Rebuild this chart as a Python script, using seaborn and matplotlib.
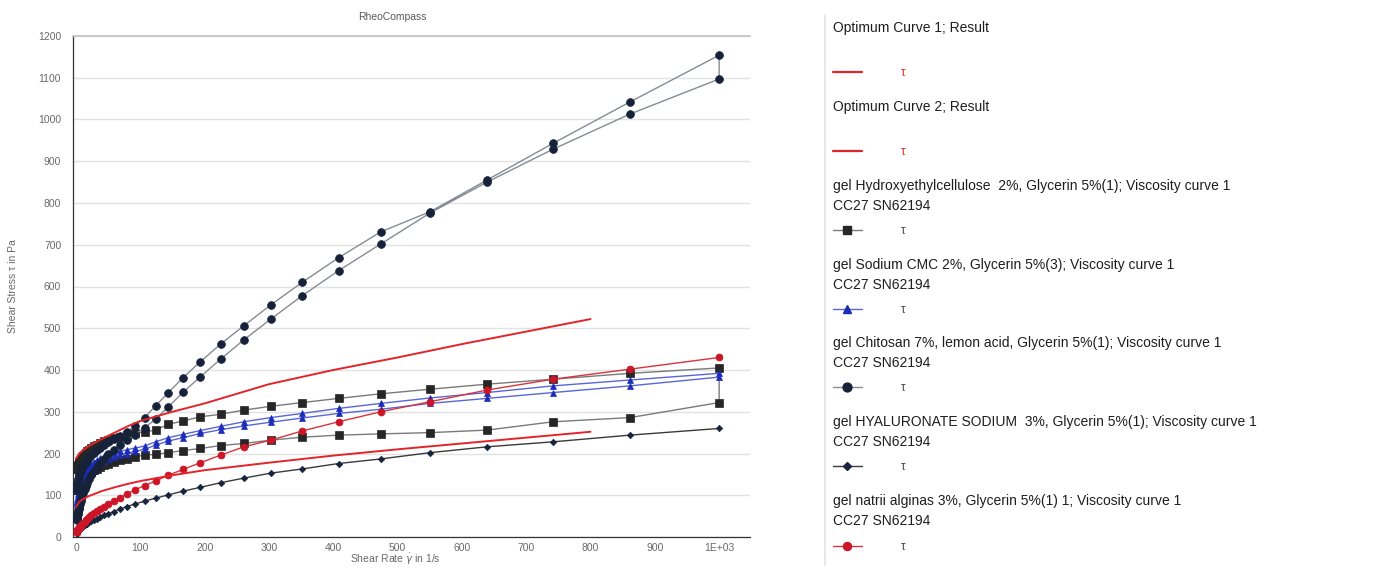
import matplotlib
matplotlib.use("Agg")
import matplotlib.pyplot as plt
from matplotlib.ticker import MultipleLocator, FuncFormatter
from matplotlib.lines import Line2D
import seaborn as sns

# Shear rate steps of the flow sweeps (1/s), ascending
SHEAR_RATE = [1.04, 1.20, 1.40, 1.62, 1.89, 2.19, 2.54, 2.95, 3.43, 3.98,
              4.62, 5.37, 6.23, 7.24, 8.40, 9.76, 11.3, 13.2, 15.3, 17.8,
              20.6, 23.9, 27.8, 32.2, 37.4, 43.5, 50.5, 58.6, 68.0, 79.0,
              91.7, 106.5, 123.7, 143.6, 166.7, 193.5, 224.7, 260.9, 302.9, 351.7,
              408.3, 474.0, 550.4, 639.0, 741.9, 861.3, 1000]

# Shear stress (Pa) – hydroxyethylcellulose, up and down sweep
hec_up = [112, 113, 114, 115, 116, 117, 118, 119, 120, 121,
          122, 123, 125, 127, 129, 132, 135, 138, 142, 146,
          150, 155, 160, 164, 168, 172, 176, 180, 184, 188,
          192, 196, 198, 202, 207, 212, 219, 224, 232, 239,
          244, 247, 250, 256, 276, 286, 322]
hec_down = [163, 164, 165, 166, 167, 168, 170, 171, 173, 175,
            177, 179, 181, 184, 187, 190, 193, 197, 201, 205,
            209, 213, 217, 221, 225, 229, 233, 237, 240, 244,
            248, 252, 256, 270, 278, 288, 294, 304, 313, 322,
            332, 343, 354, 366, 378, 392, 405]

# Sodium CMC
cmc_up = [60, 62, 64, 66, 68, 70, 72, 75, 78, 82,
          87, 92, 98, 104, 111, 118, 125, 132, 139, 146,
          153, 160, 166, 172, 178, 183, 188, 192, 196, 200,
          205, 210, 220, 230, 238, 248, 257, 266, 275, 285,
          296, 306, 320, 332, 346, 362, 383]
cmc_down = [75, 78, 81, 84, 87, 90, 94, 98, 102, 106,
            111, 116, 121, 127, 133, 139, 145, 151, 157, 163,
            169, 174, 179, 184, 189, 193, 197, 201, 205, 209,
            213, 218, 228, 238, 246, 255, 265, 276, 286, 296,
            308, 320, 333, 346, 362, 376, 392]

# Chitosan 7 %
chitosan_up = [41, 43, 45, 47, 49, 52, 55, 58, 62, 66,
               70, 75, 80, 86, 92, 99, 106, 114, 122, 130,
               139, 148, 158, 168, 178, 188, 198, 208, 220, 232,
               245, 262, 282, 312, 347, 384, 426, 472, 522, 578,
               638, 702, 776, 850, 929, 1013, 1097]
chitosan_down = [112, 115, 118, 121, 124, 127, 130, 134, 138, 142,
                 146, 150, 154, 158, 162, 166, 170, 175, 180, 185,
                 190, 196, 202, 208, 214, 220, 227, 234, 242, 252,
                 266, 286, 314, 346, 382, 420, 462, 506, 556, 610,
                 669, 731, 779, 855, 943, 1042, 1154]

# Hyaluronate sodium 3 %
hyaluronate = [8, 9, 10, 11, 12, 13, 14, 15, 16, 17,
               18, 19, 20, 21, 22, 24, 26, 28, 30, 32,
               35, 38, 41, 44, 48, 52, 56, 61, 67, 73,
               79, 86, 93, 101, 110, 119, 130, 141, 153, 163,
               176, 187, 202, 216, 228, 244, 260]

# Natrii alginas 3 %
alginate = [12, 13, 14, 15, 16, 17, 18, 19, 20, 21,
            22, 23, 25, 27, 29, 31, 34, 37, 40, 44,
            48, 52, 57, 62, 67, 73, 79, 86, 94, 103,
            113, 123, 134, 148, 162, 178, 196, 216, 232, 254,
            276, 300, 324, 352, 378, 402, 430]

# Fitted optimum curves
OPT_RATE = [0, 5, 10, 20, 40, 60, 80, 100, 150, 200, 300, 400, 500, 600, 700, 800]
optimum_1 = [188, 200, 207, 218, 235, 250, 265, 278, 300, 320, 366, 400, 430, 462, 492, 522]
optimum_2 = [72, 84, 90, 98, 110, 119, 127, 134, 148, 160, 178, 195, 210, 224, 238, 252]

X_TICKS = [0, 100, 200, 300, 400, 500, 600, 700, 800, 900, 1000]
X_TICK_LABELS = ["0", "100", "200", "300", "400", "500", "600", "700", "800", "900", "1E+03"]

sns.set_theme(style="white")
plt.rcParams["font.family"] = ["Liberation Sans", "DejaVu Sans"]
plt.rcParams["mathtext.fontset"] = "dejavusans"

W, H = 1374, 571
fig = plt.figure(figsize=(W / 100, H / 100), dpi=100)
ax = fig.add_axes([73 / W, 34 / H, 677 / W, 501 / H])

RED = "#e3242b"
series = [
    # up, down, marker, marker colour, line colour, marker size
    (hec_up, hec_down, "s", "#262626", "#7a7a7a", 5.2),
    (cmc_up, cmc_down, "^", "#1c2cb8", "#5866d8", 4.4),
    (chitosan_up, chitosan_down, "o", "#15223a", "#858c94", 5.6),
    (hyaluronate, None, "D", "#17243d", "#3a3a3a", 3.3),
    (alginate, None, "o", "#cc1526", "#d8343c", 5.0),
]

for up, down, mk, mcol, lcol, ms in series:
    xs = list(SHEAR_RATE)
    ys = list(up)
    if down is not None:
        xs += SHEAR_RATE[::-1]
        ys += down[::-1]
    sns.lineplot(x=xs, y=ys, sort=False, estimator=None, errorbar=None, ax=ax,
                 color=lcol, lw=1.0, marker=mk, markersize=ms,
                 markerfacecolor=mcol, markeredgecolor=mcol,
                 markeredgewidth=0.5, zorder=3)

for curve in (optimum_1, optimum_2):
    sns.lineplot(x=OPT_RATE, y=curve, sort=False, estimator=None, errorbar=None,
                 ax=ax, color=RED, lw=1.4, zorder=4)

ax.set_xlim(-4.7, 1048)
ax.set_ylim(0, 1200)
ax.set_xticks(X_TICKS)
ax.xaxis.set_major_formatter(FuncFormatter(
    lambda v, p: X_TICK_LABELS[X_TICKS.index(int(round(v)))] if int(round(v)) in X_TICKS else ""))
ax.set_yticks(range(0, 1201, 100))
ax.xaxis.set_minor_locator(MultipleLocator(10))
ax.yaxis.set_minor_locator(MultipleLocator(10))
ax.tick_params(axis="both", which="major", direction="inout", length=5, width=0.8,
               color="#333333", labelsize=7.5, labelcolor="#6a6a6a")
ax.tick_params(axis="x", which="major", pad=2)
ax.tick_params(axis="y", which="major", pad=6)
ax.tick_params(axis="both", which="minor", direction="inout", length=3, width=0.6,
               color="#444444")
ax.yaxis.grid(True, color="#e2e2e2", lw=1.0)
ax.set_axisbelow(True)
ax.spines["right"].set_visible(False)
ax.spines["top"].set_color("#c4c4c4")
ax.spines["left"].set_color("#333333")
ax.spines["bottom"].set_color("#333333")
ax.spines["left"].set_linewidth(0.9)
ax.spines["bottom"].set_linewidth(0.9)

ax.set_ylabel("Shear Stress τ in Pa", fontsize=7.5, color="#6a6a6a")
ax.yaxis.set_label_coords(-(73 - 18) / 677, 0.5)
ax.set_xlabel(r"Shear Rate $\dot{\gamma}$ in 1/s", fontsize=7.5, color="#6a6a6a")
ax.xaxis.set_label_coords((395 - 73) / 677, -(552 - 537) / 501)
ax.text((392 - 73) / 677, 1 + 19 / 501, "RheoCompass", transform=ax.transAxes,
        ha="center", va="center", fontsize=7.5, color="#5a5a5a")

# Legend panel on the right
lax = fig.add_axes([800 / W, 0, (W - 800) / W, 1])
lax.set_xlim(800, W)
lax.set_ylim(H, 0)
lax.axis("off")
lax.add_line(Line2D([825, 825], [15, 565], color="#e4e4e4", lw=1.2))

entries = [
    (["Optimum Curve 1; Result"], 28, 72, None, RED, RED),
    (["Optimum Curve 2; Result"], 107, 151, None, RED, RED),
    (["gel Hydroxyethylcellulose  2%, Glycerin 5%(1); Viscosity curve 1", "CC27 SN62194"],
     186, 230, series[0], None, "#444444"),
    (["gel Sodium CMC 2%, Glycerin 5%(3); Viscosity curve 1", "CC27 SN62194"],
     265, 309, series[1], None, "#444444"),
    (["gel Chitosan 7%, lemon acid, Glycerin 5%(1); Viscosity curve 1", "CC27 SN62194"],
     343, 387, series[2], None, "#444444"),
    (["gel HYALURONATE SODIUM  3%, Glycerin 5%(1); Viscosity curve 1", "CC27 SN62194"],
     422, 466, series[3], None, "#444444"),
    (["gel natrii alginas 3%, Glycerin 5%(1) 1; Viscosity curve 1", "CC27 SN62194"],
     501, 546, series[4], None, "#444444"),
]
for lines, ty, sy, spec, linecol, taucol in entries:
    for i, t in enumerate(lines):
        lax.text(833, ty + 20 * i, t, fontsize=10, color="#1e1e1e", va="center", ha="left")
    if spec is None:
        lax.add_line(Line2D([833, 862], [sy, sy], color=linecol, lw=1.6))
    else:
        _, _, mk, mcol, lcol, ms = spec
        lax.add_line(Line2D([833, 862], [sy, sy], color=lcol, lw=1.0))
        lax.add_line(Line2D([847], [sy], marker=mk, markersize=ms + 0.8,
                            markerfacecolor=mcol, markeredgecolor=mcol, lw=0))
    lax.text(903, sy + 1, "τ", fontsize=8.5, color=taucol, va="center", ha="center")

fig.savefig("out.png", dpi=100, facecolor="white")
